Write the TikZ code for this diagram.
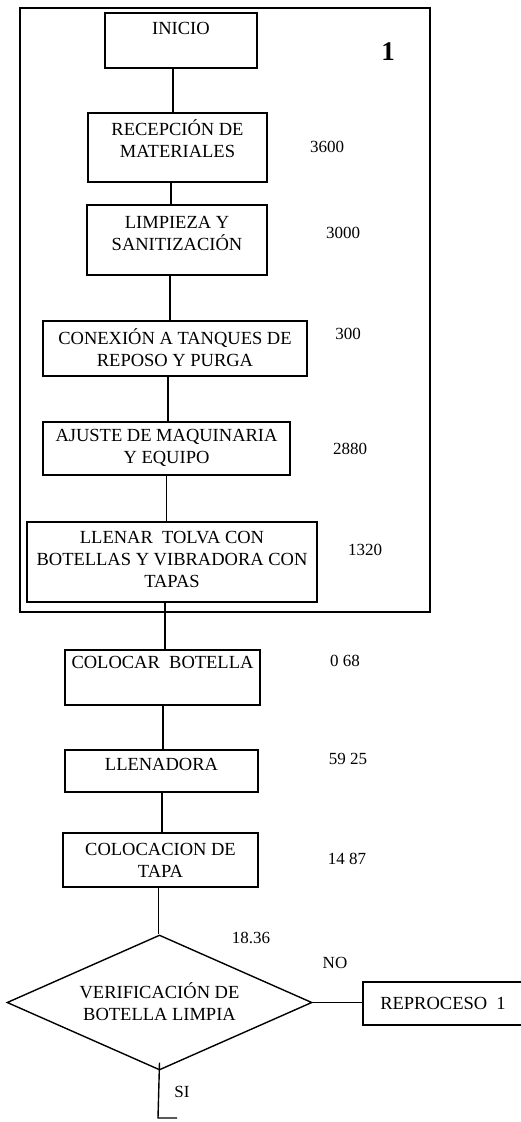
\documentclass[tikz,border=0pt]{standalone}
\usepackage{fontspec}
\setmainfont{Liberation Serif}
\usetikzlibrary{shapes.geometric}
\begin{document}
\begin{tikzpicture}[x=1pt,y=-1pt,
  box/.style={draw, line width=1.4pt, rectangle, inner sep=0pt},
  lbl/.style={font=\fontsize{18.5}{22}\selectfont, align=center, inner sep=0pt},
  num/.style={font=\fontsize{17}{20}\selectfont, inner sep=0pt},
  conn/.style={line width=1.4pt},
  frm/.style={draw, line width=1.5pt}]
\useasboundingbox (0,0) rectangle (521,1122);
% frame
\draw[frm] (20,8) rectangle (430,612);
\node[font=\fontsize{27}{30}\selectfont\bfseries, inner sep=0pt] (one) at (388,52) {1};
% boxes
\node[box, minimum width=152, minimum height=55] (b1) at (181,40.5) {};
\node[lbl] (t1) at (181,28) {INICIO};
\node[box, minimum width=179, minimum height=69] (b2) at (177.5,147.5) {};
\node[lbl] (t2) at (177.5,139) {RECEPCIÓN DE\\MATERIALES};
\node[box, minimum width=180, minimum height=70] (b3) at (177,240) {};
\node[lbl] (t3) at (177,233) {LIMPIEZA Y\\SANITIZACIÓN};
\node[box, minimum width=264, minimum height=55] (b4) at (175,348.5) {};
\node[lbl] (t4) at (175,348) {CONEXIÓN A TANQUES DE\\REPOSO Y PURGA};
\node[box, minimum width=247, minimum height=53] (b5) at (166.5,448.5) {};
\node[lbl] (t5) at (166.5,448) {AJUSTE DE MAQUINARIA\\Y EQUIPO};
\node[box, minimum width=290, minimum height=80] (b6) at (172,562) {};
\node[lbl] (t6) at (172,559) {LLENAR\ \ TOLVA CON\\BOTELLAS Y VIBRADORA CON\\TAPAS};
\node[box, minimum width=195, minimum height=55] (b7) at (162.5,677.5) {};
\node[lbl] (t7) at (162.5,662) {COLOCAR\ \ BOTELLA};
\node[box, minimum width=193, minimum height=42] (b8) at (161.5,771) {};
\node[lbl] (t8) at (161.5,764) {LLENADORA};
\node[box, minimum width=195, minimum height=54] (b9) at (160.5,860) {};
\node[lbl] (t9) at (160.5,860) {COLOCACION DE\\TAPA};
\node[draw, line width=1.4pt, diamond, inner sep=0pt, minimum width=305, minimum height=135] (d) at (159.5,1002.5) {};
\node[lbl] (td) at (159.5,1002) {VERIFICACIÓN DE\\BOTELLA LIMPIA};
\node[box, minimum width=170, minimum height=43] (r) at (448,1003.5) {};
\node[lbl] (tr) at (443,1003.5) {REPROCESO\ \ 1};
% numbers
\node[num] (n2) at (327,147) {3600};
\node[num] (n3) at (343,233) {3000};
\node[num] (n4) at (348,334) {300};
\node[num] (n5) at (350,449) {2880};
\node[num] (n6) at (365,550) {1320};
\node[num] (n7) at (345,661) {0 68};
\node[num] (n8) at (348,759) {59 25};
\node[num] (n9) at (347,859) {14 87};
\node[num] (nd) at (251,938) {18.36};
\node[num] (no) at (335,963) {NO};
\node[num] (si) at (182,1092) {SI};
% connectors
\draw[conn] ([xshift=-8pt]b1.south) -- ([xshift=-8pt]b1.south |- b2.north);
\draw[conn] ([xshift=-6.5pt]b2.south) -- ([xshift=-6.5pt]b2.south |- b3.north);
\draw[conn] ([xshift=-7pt]b3.south) -- ([xshift=-7pt]b3.south |- b4.north);
\draw[conn] ([xshift=-7pt]b4.south) -- ([xshift=-7pt]b4.south |- b5.north);
\draw[conn] ([xshift=0pt]b5.south) -- ([xshift=0pt]b5.south |- b6.north);
\draw[conn] ([xshift=-7pt]b6.south) -- ([xshift=-7pt]b6.south |- b7.north);
\draw[conn] ([xshift=0.5pt]b7.south) -- ([xshift=0.5pt]b7.south |- b8.north);
\draw[conn] ([xshift=0.5pt]b8.south) -- ([xshift=0.5pt]b8.south |- b9.north);
\draw[conn] ([xshift=-2pt]b9.south) -- ([xshift=-2pt]b9.south |- d.north);
\draw[conn] (d.east) -- (d.east -| r.west);
\coordinate (sb) at (158,1118);
\coordinate (se) at (177,1118);
\draw[conn] ([yshift=8pt]d.south) -- (sb) -- (se);
\end{tikzpicture}
\end{document}
